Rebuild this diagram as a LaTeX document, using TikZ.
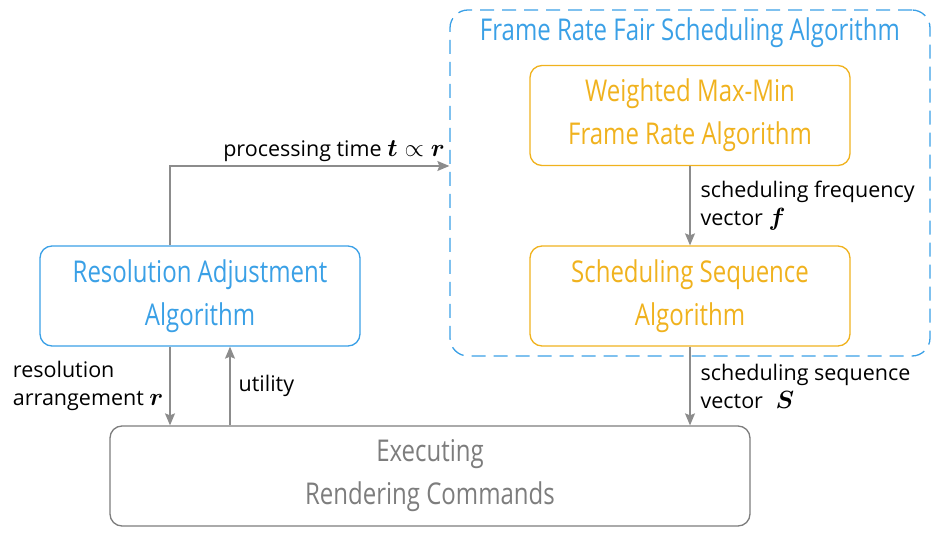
\documentclass[tikz,border=0pt]{standalone}
\usepackage{fontspec}
\usepackage{bm}
\setmainfont{Open Sans}
\newfontfamily\boxfont[FakeStretch=0.8]{Open Sans}
\usetikzlibrary{arrows.meta}
\definecolor{algblue}{RGB}{58,160,230}
\definecolor{algorange}{RGB}{240,178,30}
\definecolor{flowgray}{RGB}{140,140,140}
\definecolor{execgray}{RGB}{125,125,125}
\newcommand{\bigsym}[1]{{\fontsize{28}{28}\selectfont$#1$}}
\tikzset{
	algbox/.style={draw, rounded corners=12pt, line width=1.3pt, minimum width=320pt, minimum height=100pt, align=center, font=\boxfont\fontsize{30}{43}\selectfont},
	flow/.style={draw=flowgray, line width=1.2pt, -{Stealth[length=12pt,width=10pt,inset=2pt]}},
	lbl/.style={align=left, font=\fontsize{21.5}{28}\selectfont, inner sep=8pt}
}
\begin{document}
\begin{tikzpicture}[x=1pt,y=-1pt]
	\useasboundingbox (0,0) rectangle (938,534);
	% outer group
	\node[draw=algblue, dashed, dash pattern=on 14pt off 8pt, rounded corners=18pt, line width=1.3pt, minimum width=480pt, minimum height=346pt] (fsa) at (690,183) {};
	\node[text=algblue, font=\boxfont\fontsize{30}{43}\selectfont] (fsatitle) at ([yshift=-23pt]fsa.north) {Frame Rate Fair Scheduling Algorithm};
	% algorithm boxes
	\node[algbox, draw=algorange, text=algorange] (wmm) at (690,115.5) {Weighted Max-Min\\Frame Rate Algorithm};
	\node[algbox, draw=algorange, text=algorange] (ssa) at (690,296) {Scheduling Sequence\\Algorithm};
	\node[algbox, draw=algblue, text=algblue] (ra) at (200,296) {Resolution Adjustment\\Algorithm};
	\node[algbox, draw=execgray, text=execgray, minimum width=640pt] (exec) at (430,476) {Executing\\Rendering Commands};
	% connectors
	\draw[flow] ([xshift=-30pt]ra.north) |- ([yshift=17pt]fsa.west) node[lbl, above left, pos=1, inner sep=4pt] {processing time \bigsym{\bm{t}\propto\bm{r}}};
	\draw[flow] ([xshift=-30pt]ra.south) -- ([xshift=-30pt]ra.south |- exec.north) node[lbl, midway, left, inner sep=6pt] {resolution\\arrangement \bigsym{\bm{r}}};
	\draw[flow] ([xshift=30pt]ra.south |- exec.north) -- ([xshift=30pt]ra.south) node[lbl, midway, right] {utility};
	\draw[flow] (wmm) -- (ssa) node[lbl, midway, right, inner sep=10pt] {scheduling frequency\\vector \bigsym{\bm{f}}};
	\draw[flow] (ssa) -- (ssa |- exec.north) node[lbl, midway, right, inner sep=10pt] {scheduling sequence\\vector \bigsym{\;\bm{S}}};
\end{tikzpicture}
\end{document}
